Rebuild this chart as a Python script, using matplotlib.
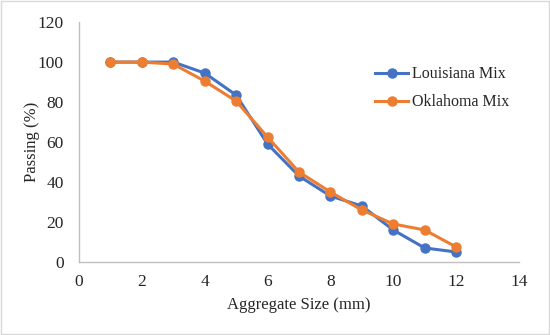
import matplotlib
matplotlib.use("Agg")
import matplotlib.pyplot as plt
from matplotlib.patches import Rectangle

plt.rcParams["font.family"] = ["Liberation Serif", "DejaVu Serif"]

sizes = [1, 2, 3, 4, 5, 6, 7, 8, 9, 10, 11, 12]
louisiana = [100, 100, 100, 94.5, 83.5, 59, 43, 33, 28, 16, 7, 5]
oklahoma = [100, 100, 99, 90.5, 80.5, 62.5, 45, 35, 26, 19, 16, 7.5]
x_ticks = [0, 2, 4, 6, 8, 10, 12, 14]
y_ticks = [0, 20, 40, 60, 80, 100, 120]

BLUE = "#4472C4"
ORANGE = "#ED7D31"
AXIS = "#BFBFBF"
TEXT = "#262626"

fig = plt.figure(figsize=(5.5, 3.35), dpi=100, facecolor="white")
ax = fig.add_axes([0.1436, 0.218, 0.80, 0.716])

ax.plot(sizes, louisiana, color=BLUE, linewidth=2.2, marker="o",
        markersize=6.5, label="Louisiana Mix", zorder=3)
ax.plot(sizes, oklahoma, color=ORANGE, linewidth=2.2, marker="o",
        markersize=6.5, label="Oklahoma Mix", zorder=4)

ax.set_xlim(0, 14)
ax.set_ylim(0, 120)
ax.set_xticks(x_ticks)
ax.set_yticks(y_ticks)
ax.tick_params(length=0, labelsize=12.5, colors=TEXT)
ax.tick_params(axis="x", pad=9)
ax.tick_params(axis="y", pad=11)
ax.set_xlabel("Aggregate Size (mm)", fontsize=12, color=TEXT, labelpad=5)
ax.set_ylabel("Passing (%)", fontsize=12, color=TEXT, labelpad=-2)

for side in ["top", "right"]:
    ax.spines[side].set_visible(False)
for side in ["left", "bottom"]:
    ax.spines[side].set_edgecolor(AXIS)
    ax.spines[side].set_linewidth(1.0)

ax.legend(loc="upper left", bbox_to_anchor=(0.64, 0.875), frameon=False,
          fontsize=11.5, handlelength=2.1, handletextpad=0.2,
          labelspacing=0.75, labelcolor=TEXT)

# light frame round the whole chart
fig.patches.append(Rectangle((0.002, 0.003), 0.996, 0.994,
                             transform=fig.transFigure, fill=False,
                             edgecolor="#D9D9D9", linewidth=1.0))

fig.savefig("out.png", dpi=100, facecolor="white")
